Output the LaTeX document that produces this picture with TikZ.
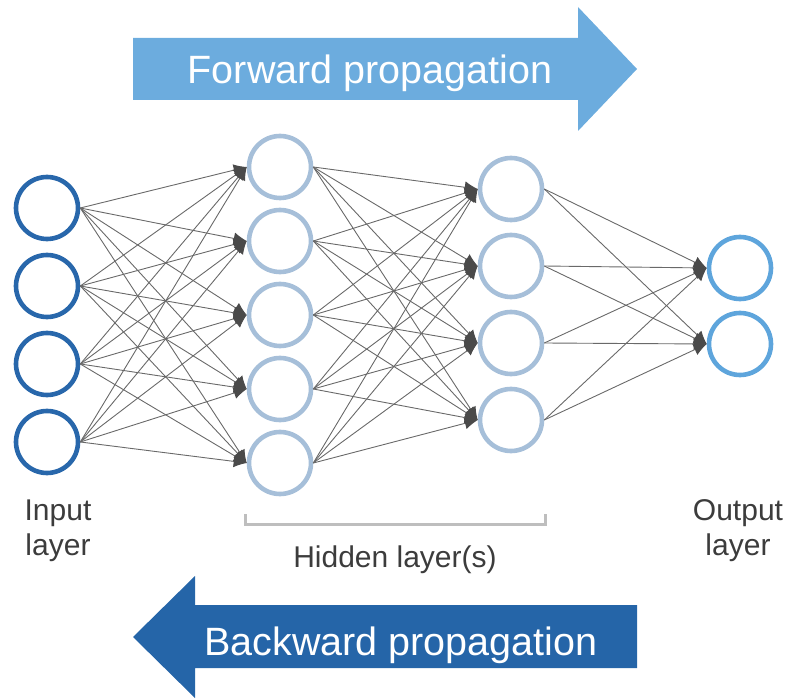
\documentclass[tikz,border=0pt]{standalone}
\usepackage{fontspec}
\setmainfont{Liberation Sans}
\usetikzlibrary{arrows.meta, positioning, calc}

\definecolor{inblue}{RGB}{40,103,171}
\definecolor{hidblue}{RGB}{166,191,217}
\definecolor{outblue}{RGB}{94,165,220}
\definecolor{fwdblue}{RGB}{108,172,222}
\definecolor{bwdblue}{RGB}{37,101,168}
\definecolor{linkgray}{RGB}{105,105,105}
\definecolor{tipgray}{RGB}{74,74,74}
\definecolor{textgray}{RGB}{60,60,60}
\definecolor{bracketgray}{RGB}{190,190,190}

\begin{document}
\begin{tikzpicture}[x=1pt, y=-1pt, node distance=76pt, on grid,
    neuron/.style={circle, draw, line width=4.6pt, minimum size=62pt, inner sep=0pt, fill=white},
    inneuron/.style={neuron, draw=inblue},
    hidneuron/.style={neuron, draw=hidblue},
    outneuron/.style={neuron, draw=outblue},
    link/.style={-{Latex[length=13pt, width=12pt, color=tipgray]}, draw=linkgray, line width=0.9pt},
    laytext/.style={text=textgray, font=\fontsize{30}{35}\selectfont, align=center},
    banner/.style={text=white, font=\fontsize{39.5}{45}\selectfont}]
                                \useasboundingbox (0,0) rectangle (787,700);

                                % Propagation arrows
                                \fill[fwdblue] (133,38) -- (578,38) -- (578,7) -- (637,69) -- (578,131) -- (578,100) -- (133,100) -- cycle;
                                \node[banner, anchor=base] (fwd) at (370,84) {Forward propagation};
                                \fill[bwdblue] (637,605) -- (195,605) -- (195,576) -- (133,637) -- (195,698) -- (195,668) -- (637,668) -- cycle;
                                \node[banner, anchor=base] (bwd) at (401,655) {Backward propagation};

                                % Define the nodes
                                \node[inneuron] (in1) at (47,208) {};
                                \node[inneuron] (in2) [below=78pt of in1] {};
                                \node[inneuron] (in3) [below=78pt of in2] {};
                                \node[inneuron] (in4) [below=78pt of in3] {};

                                \node[hidneuron] (ha1) at (280,167) {};
                                \node[hidneuron] (ha2) [below=74pt of ha1] {};
                                \node[hidneuron] (ha3) [below=74pt of ha2] {};
                                \node[hidneuron] (ha4) [below=74pt of ha3] {};
                                \node[hidneuron] (ha5) [below=74pt of ha4] {};

                                \node[hidneuron] (hb1) at (511,189) {};
                                \node[hidneuron] (hb2) [below=77pt of hb1] {};
                                \node[hidneuron] (hb3) [below=77pt of hb2] {};
                                \node[hidneuron] (hb4) [below=77pt of hb3] {};

                                \node[outneuron] (out1) at (740,268) {};
                                \node[outneuron] (out2) [below=of out1] {};

                                % Draw the edges
                                \foreach \i in {1,...,4}
                                    \foreach \j in {1,...,5}
                                        \draw[link] (in\i.east) -- (ha\j.west);
                                \foreach \i in {1,...,5}
                                    \foreach \j in {1,...,4}
                                        \draw[link] (ha\i.east) -- (hb\j.west);
                                \foreach \i in {1,...,4}
                                    \foreach \j in {1,2}
                                        \draw[link] (hb\i.east) -- (out\j.west);

                                % Layer labels
                                \node[laytext] (inlab) at (58,531) {Input\\layer};
                                \node[laytext] (outlab) at (738,531) {Output\\layer};
                                \draw[bracketgray, line width=3pt] (245,514) -- (245,524) -- (545,524) -- (545,514);
                                \node[laytext, anchor=base] (hidlab) at (395,567) {Hidden layer(s)};
                        \end{tikzpicture}
\end{document}
